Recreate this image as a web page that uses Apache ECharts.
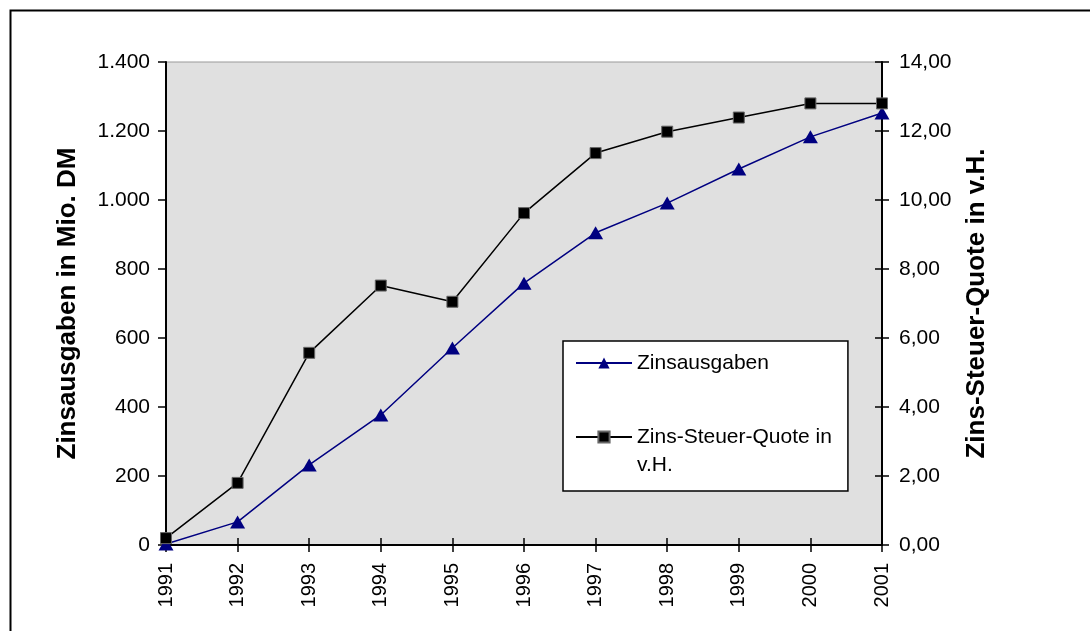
<!DOCTYPE html>
<html>
<head>
<meta charset="utf-8">
<script src="https://cdn.jsdelivr.net/npm/echarts@6/dist/echarts.min.js"></script>
<style>
  html, body { margin: 0; padding: 0; background: #fff; }
  #chart { width: 1090px; height: 631px; }
</style>
</head>
<body>
<div id="chart"></div>
<script>
// Daten
const jahre = ['1991', '1992', '1993', '1994', '1995', '1996', '1997', '1998', '1999', '2000', '2001']
const zinsausgaben = [3, 67, 232, 377, 571, 759, 905, 991, 1090, 1183, 1252] // Mio. DM
const zinsSteuerQuote = [0.2, 1.8, 5.57, 7.52, 7.05, 9.62, 11.36, 11.98, 12.39, 12.8, 12.8] // v.H.

const font = 'Liberation Sans, Arial, sans-serif'

// 1.400 statt 1400
function tausender(v) {
  return String(v).replace(/\B(?=(\d{3})+(?!\d))/g, '.')
}

const tickStyle = { color: '#000', width: 1.5 }

const myChart = echarts.init(document.getElementById('chart'))
const options = {
  animation: false,
  textStyle: { fontFamily: font },
  graphic: [{
    type: 'rect',
    shape: { x: 10.5, y: 10.5, width: 1200, height: 800 },
    style: { fill: 'none', stroke: '#000', lineWidth: 2 },
    silent: true
  }],
  grid: {
    left: 166,
    right: 208,
    top: 62,
    bottom: 86,
    show: true,
    backgroundColor: '#e0e0e0',
    borderColor: '#999',
    borderWidth: 1
  },
  legend: {
    orient: 'vertical',
    left: 563,
    top: 341,
    padding: [8, 16, 12, 12],
    itemGap: 18,
    itemWidth: 56,
    itemHeight: 14,
    backgroundColor: '#fff',
    borderColor: '#000',
    borderWidth: 1.5,
    borderRadius: 0,
    textStyle: { fontFamily: font, fontSize: 21, color: '#000', lineHeight: 28 },
    data: ['Zinsausgaben', 'Zins-Steuer-Quote in v.H.'],
    formatter: function (name) {
      // Leerzeile oben, damit die erste Zeile neben dem Symbol steht
      return name === 'Zins-Steuer-Quote in v.H.' ? ' \nZins-Steuer-Quote in\nv.H.' : name
    }
  },
  xAxis: [
    {
      type: 'category',
      data: jahre,
      boundaryGap: false,
      axisLine: { lineStyle: { color: '#000', width: 2 } },
      axisTick: { show: true, alignWithLabel: true, length: 7, lineStyle: tickStyle },
      axisLabel: { rotate: 90, margin: 18, fontSize: 20, color: '#000', fontFamily: font }
    },
    {
      // nur Striche nach innen
      type: 'category',
      data: jahre,
      position: 'bottom',
      boundaryGap: false,
      axisLine: { show: false },
      axisTick: { show: true, inside: true, length: 7, lineStyle: tickStyle },
      axisLabel: { show: false }
    }
  ],
  yAxis: [
    {
      type: 'value',
      min: 0,
      max: 1400,
      interval: 200,
      name: 'Zinsausgaben in Mio. DM',
      nameLocation: 'middle',
      nameGap: 85,
      nameTextStyle: { fontSize: 26, fontWeight: 'bold', color: '#000', fontFamily: font },
      axisLine: { show: true, lineStyle: { color: '#000', width: 2 } },
      axisTick: { show: true, length: 8, lineStyle: tickStyle },
      splitLine: { show: false },
      axisLabel: { fontSize: 21, color: '#000', margin: 16, fontFamily: font, formatter: tausender }
    },
    {
      type: 'value',
      min: 0,
      max: 14,
      interval: 2,
      position: 'right',
      name: 'Zins-Steuer-Quote in v.H.',
      nameLocation: 'middle',
      nameGap: 82,
      nameRotate: 90,
      nameTextStyle: { fontSize: 26, fontWeight: 'bold', color: '#000', fontFamily: font },
      axisLine: { show: true, lineStyle: { color: '#000', width: 2 } },
      axisTick: { show: true, length: 7, lineStyle: tickStyle },
      splitLine: { show: false },
      axisLabel: {
        fontSize: 21, color: '#000', margin: 17, fontFamily: font,
        formatter: function (v) { return v.toFixed(2).replace('.', ',') }
      }
    },
    {
      // Striche der rechten Achse nach innen
      type: 'value',
      min: 0,
      max: 14,
      interval: 2,
      position: 'right',
      axisLine: { show: false },
      axisTick: { show: true, inside: true, length: 7, lineStyle: tickStyle },
      axisLabel: { show: false },
      splitLine: { show: false }
    }
  ],
  series: [
    {
      name: 'Zinsausgaben',
      type: 'line',
      yAxisIndex: 0,
      data: zinsausgaben,
      symbol: 'triangle',
      symbolSize: [15, 13],
      color: '#000080',
      lineStyle: { color: '#000080', width: 1.5 },
      itemStyle: { color: '#000080' }
    },
    {
      name: 'Zins-Steuer-Quote in v.H.',
      type: 'line',
      yAxisIndex: 1,
      data: zinsSteuerQuote,
      symbol: 'rect',
      symbolSize: 11,
      color: '#000',
      lineStyle: { color: '#000', width: 1.5 },
      itemStyle: { color: '#000', borderColor: '#666', borderWidth: 1 }
    }
  ]
}
myChart.setOption(options)
window.onresize = myChart.resize
</script>
</body>
</html>
